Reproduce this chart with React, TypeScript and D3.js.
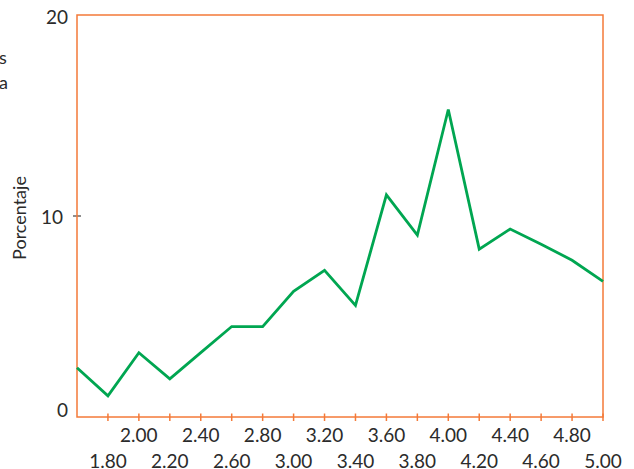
import React from "react";
import * as d3 from "d3";

const xValues = [1.6, 1.8, 2.0, 2.2, 2.4, 2.6, 2.8, 3.0, 3.2, 3.4, 3.6, 3.8, 4.0, 4.2, 4.4, 4.6, 4.8, 5.0];
const percentages = [2.45, 1.05, 3.2, 1.9, 3.2, 4.5, 4.5, 6.25, 7.3, 5.55, 11.05, 9.05, 15.3, 8.35, 9.35, 8.6, 7.8, 6.75];
const xTicks = [1.8, 2.0, 2.2, 2.4, 2.6, 2.8, 3.0, 3.2, 3.4, 3.6, 3.8, 4.0, 4.2, 4.4, 4.6, 4.8, 5.0];
const yTicks = [0, 10, 20];
const yLabel = "Porcentaje";
const clippedLegend = ["s", "a"];

const W = 634;
const H = 469;
const M = { left: 77, right: 603, top: 15, bottom: 417 };
const ORANGE = "#f47a38";
const GREEN = "#00a651";
const TEXT = "#2b2b2b";
const FONT = "Lato, 'Open Sans', sans-serif";

export default function App() {
  const x = d3.scaleLinear().domain([1.6, 5.0]).range([M.left, M.right]);
  const y = d3.scaleLinear().domain([0, 20]).range([M.bottom, M.top]);
  const line = d3
    .line<number>()
    .x((_, i) => x(xValues[i]))
    .y((d) => y(d));
  const path = line(percentages) || "";

  return (
    <svg
      width={W}
      height={H}
      style={{ position: "fixed", left: 0, top: 0, background: "#fff" }}
      fontFamily={FONT}
    >
      <rect x={0} y={0} width={W} height={H} fill="#fff" />
      {/* clipped legend remnants */}
      {clippedLegend.map((t, i) => (
        <text key={t + i} x={-1} y={64 + i * 25} fontSize={18} fill={TEXT}>
          {t}
        </text>
      ))}
      {/* y axis label */}
      <text
        transform={`translate(26,${218}) rotate(-90)`}
        textAnchor="middle"
        fontSize={18}
        fill={TEXT}
      >
        {yLabel}
      </text>
      {/* y tick labels */}
      {yTicks.map((t) => (
        <text
          key={t}
          x={t === 10 ? 63 : 68}
          y={y(t) + (t === 0 ? -7 : t === 20 ? 2.5 : 1.5)}
          dy="0.35em"
          textAnchor="end"
          fontSize={19}
          fill={TEXT}
        >
          {t}
        </text>
      ))}
      {yTicks
        .filter((t) => t !== 0 && t !== 20)
        .map((t) => (
          <line key={t} x1={73} x2={81} y1={y(t)} y2={y(t)} stroke="#444" strokeWidth={1.2} />
        ))}
      {/* x ticks */}
      {xTicks.map((t) => (
        <line key={t} x1={x(t)} x2={x(t)} y1={M.bottom - 3.5} y2={M.bottom + 4} stroke={ORANGE} strokeWidth={1.5} />
      ))}
      {xTicks.map((t, i) => (
        <text
          key={"l" + t}
          x={x(t)}
          y={i % 2 === 1 ? 442 : 468}
          textAnchor="middle"
          fontSize={19}
          fill={TEXT}
        >
          {t.toFixed(2)}
        </text>
      ))}
      {/* frame */}
      <rect
        x={M.left}
        y={M.top}
        width={M.right - M.left}
        height={M.bottom - M.top}
        fill="none"
        stroke={ORANGE}
        strokeWidth={1.5}
      />
      <path d={path} fill="none" stroke={GREEN} strokeWidth={2.8} strokeLinejoin="miter" />
    </svg>
  );
}
